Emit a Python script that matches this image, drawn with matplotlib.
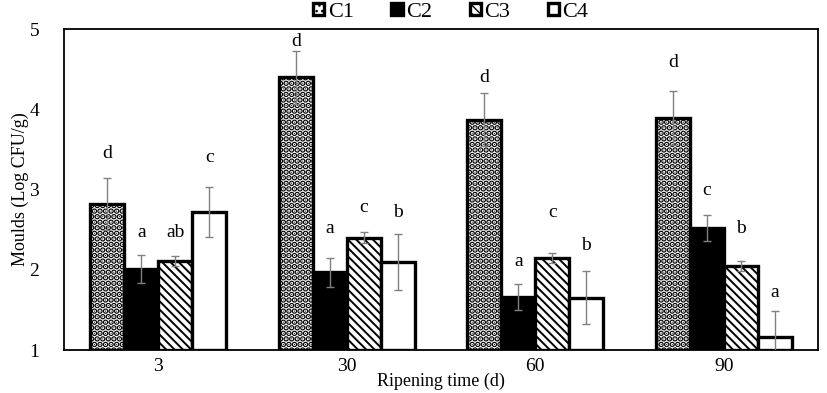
import numpy as np
import matplotlib.pyplot as plt

plt.rcParams['font.family'] = 'Liberation Serif'

# data
days = ['3', '30', '60', '90']
series = ['C1', 'C2', 'C3', 'C4']
c1 = [2.82, 4.40, 3.87, 3.89]
c2 = [2.01, 1.97, 1.66, 2.52]
c3 = [2.11, 2.40, 2.15, 2.05]
c4 = [2.72, 2.10, 1.65, 1.16]
c1_err = [0.32, 0.33, 0.33, 0.34]
c2_err = [0.17, 0.18, 0.16, 0.16]
c3_err = [0.06, 0.07, 0.06, 0.06]
c4_err = [0.31, 0.35, 0.33, 0.33]
# significance letters and their heights
c1_lab = ['d', 'd', 'd', 'd']
c2_lab = ['a', 'a', 'a', 'c']
c3_lab = ['ab', 'c', 'c', 'b']
c4_lab = ['c', 'b', 'b', 'a']
c1_lab_y = [3.45, 4.84, 4.40, 4.58]
c2_lab_y = [2.46, 2.51, 2.10, 2.99]
c3_lab_y = [2.46, 2.78, 2.71, 2.52]
c4_lab_y = [3.40, 2.72, 2.31, 1.72]

vals = [c1, c2, c3, c4]
errs = [c1_err, c2_err, c3_err, c4_err]
labs = [c1_lab, c2_lab, c3_lab, c4_lab]
lab_y = [c1_lab_y, c2_lab_y, c3_lab_y, c4_lab_y]
fills = ['white', 'black', 'white', 'white']
hatches = ['...', None, '\\\\\\\\', None]
hatch_lw = [3.0, 1.0, 1.4, 1.0]

fig = plt.figure(figsize=(8.27, 3.93), dpi=100)
ax = fig.add_axes([0.0774, 0.109, 0.9116, 0.817])

x = np.arange(len(days))
w = 0.18
for i in range(4):
    plt.rcParams['hatch.linewidth'] = hatch_lw[i]
    pos = x + (i - 1.5) * w
    bottom = 1
    ax.bar(pos, np.array(vals[i]) - bottom, w, bottom=bottom, color=fills[i],
           edgecolor='black', linewidth=2.4, hatch=hatches[i], label=series[i], zorder=2)
    ax.errorbar(pos, vals[i], yerr=errs[i], fmt='none', ecolor='#808080',
                elinewidth=1, capsize=3, capthick=1, zorder=3)
    for p, ly, t in zip(pos, lab_y[i], labs[i]):
        ax.text(p, ly, t, ha='center', va='center', fontsize=14)

ax.set_ylim(1, 5)
ax.set_xlim(-0.5, 3.5)
ax.set_yticks([1, 2, 3, 4, 5])
ax.set_xticks(x)
ax.set_xticklabels(days)
ax.tick_params(axis='y', length=0, labelsize=14, pad=18)
ax.tick_params(axis='x', length=0, labelsize=14, pad=6)
ax.set_ylabel('Moulds (Log CFU/g)', fontsize=13)
ax.yaxis.set_label_coords(-0.046, 0.5)
ax.set_xlabel('Ripening time (d)', fontsize=13, labelpad=-2)
for s in ax.spines.values():
    s.set_linewidth(1.3)

ax.legend(loc='lower center', bbox_to_anchor=(0.513, 0.995), ncol=4, frameon=False,
          fontsize=16, handlelength=0.5, handleheight=0.5, handletextpad=0.15,
          columnspacing=1.7, borderaxespad=0)

fig.savefig('out.png', dpi=100)
